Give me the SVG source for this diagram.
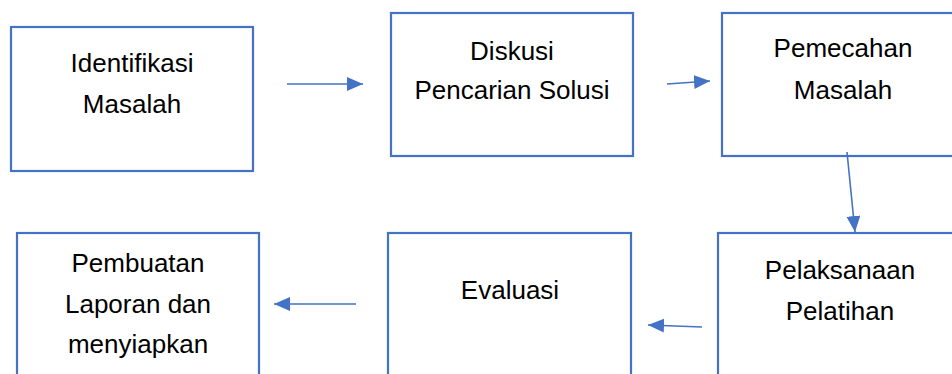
<svg xmlns="http://www.w3.org/2000/svg" width="952" height="374" viewBox="0 0 952 374">
<style>
.box{fill:#ffffff;stroke:#4472C4;stroke-width:2.2}
.t{font-family:"Liberation Sans",Arial,sans-serif;font-size:26px;fill:#000000;text-anchor:middle}
.c{stroke:#4472C4;stroke-width:1.6;fill:none;marker-end:url(#ah)}
</style>
<defs>
<marker id="ah" markerUnits="userSpaceOnUse" markerWidth="17" markerHeight="15" refX="16" refY="7" orient="auto">
<path d="M0,0 L16,7 L0,14 z" fill="#4472C4"/>
</marker>
</defs>
<rect width="952" height="374" fill="#ffffff"/>
<g id="n1">
<rect class="box" x="11" y="27" width="242" height="144"/>
<text class="t" x="132" y="72">Identifikasi</text>
<text class="t" x="132" y="113">Masalah</text>
</g>
<g id="n2">
<rect class="box" x="391" y="13" width="242" height="143"/>
<text class="t" x="512" y="60">Diskusi</text>
<text class="t" x="512" y="99">Pencarian Solusi</text>
</g>
<g id="n3">
<rect class="box" x="722" y="13" width="243" height="143"/>
<text class="t" x="843" y="57">Pemecahan</text>
<text class="t" x="843" y="99">Masalah</text>
</g>
<g id="n4">
<rect class="box" x="718" y="233" width="245" height="160"/>
<text class="t" x="840" y="279">Pelaksanaan</text>
<text class="t" x="840" y="320">Pelatihan</text>
</g>
<g id="n5">
<rect class="box" x="388" y="233" width="243" height="160"/>
<text class="t" x="510" y="299">Evaluasi</text>
</g>
<g id="n6">
<rect class="box" x="17" y="233" width="242" height="160"/>
<text class="t" x="138" y="272">Pembuatan</text>
<text class="t" x="138" y="313">Laporan dan</text>
<text class="t" x="138" y="353">menyiapkan</text>
</g>
<g id="connectors">
<path class="c" d="M287,84 L363,84"/>
<path class="c" d="M667,84 L710,81"/>
<path class="c" d="M847,152 L855,232"/>
<path class="c" d="M702,327 L648,325"/>
<path class="c" d="M356,304 L274,304"/>
</g>
</svg>
